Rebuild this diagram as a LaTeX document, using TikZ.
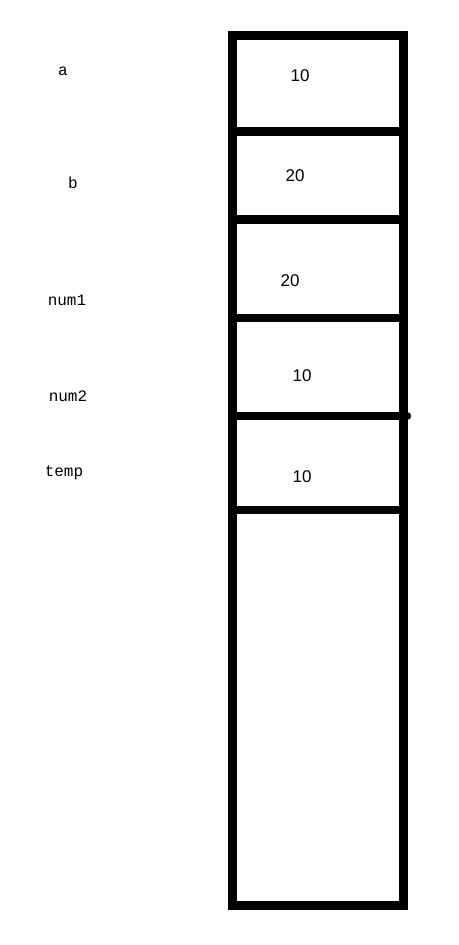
\documentclass[tikz,border=0pt]{standalone}
\usepackage{fontspec}
\setmainfont{Liberation Sans}
\newfontfamily\labelfont{Liberation Mono}
\begin{document}
\begin{tikzpicture}[x=1pt,y=-1pt,
  wall/.style={line width=9pt},
  sep/.style={line width=8.5pt, line cap=round},
  val/.style={font=\fontsize{17}{17}\selectfont, inner sep=0pt},
  varname/.style={font=\labelfont\fontsize{16}{16}\selectfont, inner sep=0pt}]
\fill[white] (0,0) rectangle (458,945);
\useasboundingbox (0,0) rectangle (458,945);
% outer box
\draw[wall] (232.5,35) rectangle (403.5,905.5);
% dividers
\coordinate (l1) at (232.5,131); \coordinate (r1) at (403.5,131);
\coordinate (l2) at (232.5,219); \coordinate (r2) at (403.5,219);
\coordinate (l3) at (232.5,318); \coordinate (r3) at (398,318);
\coordinate (l4) at (232.5,416); \coordinate (r4) at (407,416);
\coordinate (l5) at (232.5,510); \coordinate (r5) at (398,510);
\draw[wall] (l1) -- (r1);
\draw[wall] (l2) -- (r2);
\draw[sep] (l3) -- (r3);
\draw[sep] (l4) -- (r4);
\draw[sep] (l5) -- (r5);
% values
\node[val] (v1) at (300,76) {10};
\node[val] (v2) at (295,176) {20};
\node[val] (v3) at (290,281) {20};
\node[val] (v4) at (302,376) {10};
\node[val] (v5) at (302,477) {10};
% names
\node[varname] (na) at (63,71) {a};
\node[varname] (nb) at (73,183) {b};
\node[varname] (nn1) at (67,300) {num1};
\node[varname] (nn2) at (68,396) {num2};
\node[varname] (nt) at (64,473) {temp};
\end{tikzpicture}
\end{document}
